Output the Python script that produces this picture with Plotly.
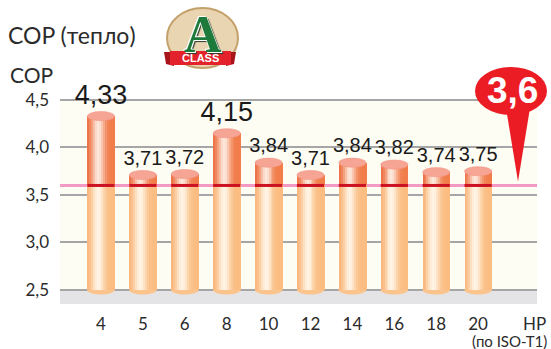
import math
import plotly.graph_objects as go

# ---- data ----
categories = ["4", "5", "6", "8", "10", "12", "14", "16", "18", "20"]
cop_values = [4.33, 3.71, 3.72, 4.15, 3.84, 3.71, 3.84, 3.82, 3.74, 3.75]
value_labels = ["4,33", "3,71", "3,72", "4,15", "3,84", "3,71", "3,84", "3,82", "3,74", "3,75"]
highlighted = [True, False, False, True, False, False, False, False, False, False]
y_ticks = [2.5, 3.0, 3.5, 4.0, 4.5]
y_tick_labels = ["2,5", "3,0", "3,5", "4,0", "4,5"]
threshold = 3.6
threshold_label = "3,6"
base_value = 2.5

# ---- geometry / style ----
W, H = 551, 349
ML, MR, MT, MB = 60, 14, 5, 45
YMIN, YMAX = 2.352, 5.5
XMIN, XMAX = -0.978, 10.405
BAR_W = 0.65
STRIPS = 14
CAP_H = 0.048
LABEL_GAP = 0.055

FONT = "Lato, Open Sans, sans-serif"
NARROW = "Liberation Sans Narrow, Liberation Sans, sans-serif"
TEXT = "#2b2b2b"


def px_x(px):
    return (px - ML) / (W - ML - MR)


def px_y(py):
    return (H - MB - py) / (H - MT - MB)


def mix(c1, c2, t):
    a = [int(c1[i:i + 2], 16) for i in (1, 3, 5)]
    b = [int(c2[i:i + 2], 16) for i in (1, 3, 5)]
    return "#%02x%02x%02x" % tuple(round(a[k] + (b[k] - a[k]) * t) for k in range(3))


x_pos = list(range(len(categories)))
lower_h = [min(v, threshold) - base_value for v in cop_values]
upper_h = [max(v - threshold, 0) for v in cop_values]

fig = go.Figure()

# cylinder bodies: vertical strips give the shaded, rounded look
sw = BAR_W / STRIPS
for i in range(STRIPS):
    s = (i + 0.5) / STRIPS
    t = math.exp(-((s - 0.4) / 0.24) ** 2)
    edge_up = mix("#ec6838", "#f27e4a", s)
    edge_lo = mix("#f9b273", "#fbbd82", s)
    c_up = mix(edge_up, "#fde6da", t)
    c_lo = mix(edge_lo, "#fff3e4", t)
    off = -BAR_W / 2 + i * sw
    fig.add_trace(go.Bar(x=x_pos, y=lower_h, base=[base_value] * len(x_pos),
                         width=sw * 1.25, offset=off, marker_color=c_lo,
                         marker_line_width=0, hoverinfo="skip", showlegend=False))
    fig.add_trace(go.Bar(x=x_pos, y=upper_h, base=[threshold] * len(x_pos),
                         width=sw * 1.25, offset=off, marker_color=c_up,
                         marker_line_width=0, hoverinfo="skip", showlegend=False))

# value labels above each cylinder
fig.add_trace(go.Scatter(
    x=x_pos, y=[v + LABEL_GAP for v in cop_values], mode="text",
    text=value_labels, textposition="top center",
    textfont=dict(family=NARROW, size=[27 if h else 20 for h in highlighted], color="#1a1a1a"),
    hoverinfo="skip", showlegend=False))

shapes = []
# cream plot panel and grey floor
shapes.append(dict(type="rect", xref="paper", yref="y", x0=0, x1=1, y0=base_value, y1=max(y_ticks),
                   fillcolor="#fdfdf3", line_width=0, layer="below"))
shapes.append(dict(type="rect", xref="paper", yref="y", x0=0, x1=1, y0=YMIN, y1=base_value,
                   fillcolor="#e4e4e6", line_width=0, layer="below"))
# pink threshold line
shapes.append(dict(type="line", xref="paper", yref="y", x0=0, x1=1, y0=threshold, y1=threshold,
                   line=dict(color="#f39ac4", width=3), layer="between"))
for xi, v in zip(x_pos, cop_values):
    # rounded bottom
    shapes.append(dict(type="circle", xref="x", yref="y", x0=xi - BAR_W / 2, x1=xi + BAR_W / 2,
                       y0=base_value - CAP_H, y1=base_value + CAP_H,
                       fillcolor="#fbc48c", line_width=0, layer="between"))
    # top cap
    shapes.append(dict(type="circle", xref="x", yref="y", x0=xi - BAR_W / 2, x1=xi + BAR_W / 2,
                       y0=v - CAP_H, y1=v + CAP_H,
                       fillcolor="#f6a494", line=dict(color="#f3978a", width=0.6), layer="above"))
    # dark red threshold segment across the cylinder
    shapes.append(dict(type="line", xref="x", yref="y", x0=xi - BAR_W / 2, x1=xi + BAR_W / 2,
                       y0=threshold, y1=threshold, line=dict(color="#cc1122", width=3), layer="above"))

# balloon marker for the threshold value
tip_y = (threshold - YMIN) / (YMAX - YMIN) + 4 / (H - MT - MB)
shapes.append(dict(type="path", xref="paper", yref="paper",
                   path="M %f,%f L %f,%f L %f,%f Z" % (px_x(506), px_y(108), px_x(530), px_y(108),
                                                       px_x(518), tip_y),
                   fillcolor="#ec1c24", line_width=0, layer="above"))
shapes.append(dict(type="circle", xref="paper", yref="paper",
                   x0=px_x(475), x1=px_x(547), y0=px_y(115), y1=px_y(67),
                   fillcolor="#ec1c24", line_width=0, layer="above"))

# class badge
shapes.append(dict(type="circle", xref="paper", yref="paper",
                   x0=px_x(167), x1=px_x(238), y0=px_y(68), y1=px_y(8),
                   fillcolor="#ead5b2", line=dict(color="#c4a06a", width=2), layer="above"))
shapes.append(dict(type="path", xref="paper", yref="paper",
                   path="M %f,%f L %f,%f L %f,%f L %f,%f Z" % (px_x(164), px_y(52), px_x(174), px_y(52),
                                                               px_x(174), px_y(66), px_x(166), px_y(64)),
                   fillcolor="#a8141c", line_width=0, layer="above"))
shapes.append(dict(type="path", xref="paper", yref="paper",
                   path="M %f,%f L %f,%f L %f,%f L %f,%f Z" % (px_x(226), px_y(52), px_x(236), px_y(52),
                                                               px_x(234), px_y(64), px_x(226), px_y(66)),
                   fillcolor="#a8141c", line_width=0, layer="above"))
shapes.append(dict(type="rect", xref="paper", yref="paper",
                   x0=px_x(170), x1=px_x(231), y0=px_y(65), y1=px_y(51),
                   fillcolor="#e3222b", line_width=0, layer="above"))

annotations = [
    dict(text="COP (тепло)", xref="paper", yref="paper", x=px_x(6), y=px_y(35),
         xanchor="left", yanchor="middle", showarrow=False,
         font=dict(family=FONT, size=23, color=TEXT)),
    dict(text="COP", xref="paper", yref="paper", x=px_x(8), y=px_y(75),
         xanchor="left", yanchor="middle", showarrow=False,
         font=dict(family=FONT, size=21, color=TEXT)),
    dict(text="HP", xref="paper", yref="paper", x=px_x(548), y=px_y(323),
         xanchor="right", yanchor="middle", showarrow=False,
         font=dict(family=FONT, size=17, color=TEXT)),
    dict(text="(по ISO-T1)", xref="paper", yref="paper", x=px_x(549), y=px_y(341),
         xanchor="right", yanchor="middle", showarrow=False,
         font=dict(family=FONT, size=15, color=TEXT)),
    dict(text=threshold_label, xref="paper", yref="paper", x=px_x(512), y=px_y(90),
         xanchor="center", yanchor="middle", showarrow=False,
         font=dict(family="Liberation Sans, Arial, sans-serif", size=37, color="white", weight="bold")),
    dict(text="A", xref="paper", yref="paper", x=px_x(203), y=px_y(34),
         xanchor="center", yanchor="middle", showarrow=False,
         font=dict(family="Liberation Serif, DejaVu Serif, serif", size=52, color="#1d7a3b", weight="bold",
                   shadow="1px 1px 0 #ffffff, -1px -1px 0 #ffffff, 2px 2px 1px #2b3b2b")),
    dict(text="CLASS", xref="paper", yref="paper", x=px_x(200.5), y=px_y(58),
         xanchor="center", yanchor="middle", showarrow=False,
         font=dict(family="Liberation Sans, Arial, sans-serif", size=11, color="white", weight="bold")),
]

fig.update_layout(
    width=W, height=H, autosize=False,
    margin=dict(l=ML, r=MR, t=MT, b=MB),
    paper_bgcolor="white", plot_bgcolor="white",
    barmode="overlay", bargap=0,
    showlegend=False,
    shapes=shapes, annotations=annotations,
    xaxis=dict(range=[XMIN, XMAX], tickvals=x_pos, ticktext=categories,
               showgrid=False, zeroline=False, showline=False, ticks="",
               ticklabelstandoff=8,
               tickfont=dict(family=FONT, size=17, color=TEXT), fixedrange=True),
    yaxis=dict(range=[YMIN, YMAX], tickvals=y_ticks, ticktext=y_tick_labels,
               showgrid=True, gridcolor="#a6a6a6", gridwidth=1.5,
               zeroline=False, showline=False, ticks="", ticklabelstandoff=10,
               tickfont=dict(family=FONT, size=17, color=TEXT), fixedrange=True),
)

fig.write_html("out.html", config={"displayModeBar": False})
